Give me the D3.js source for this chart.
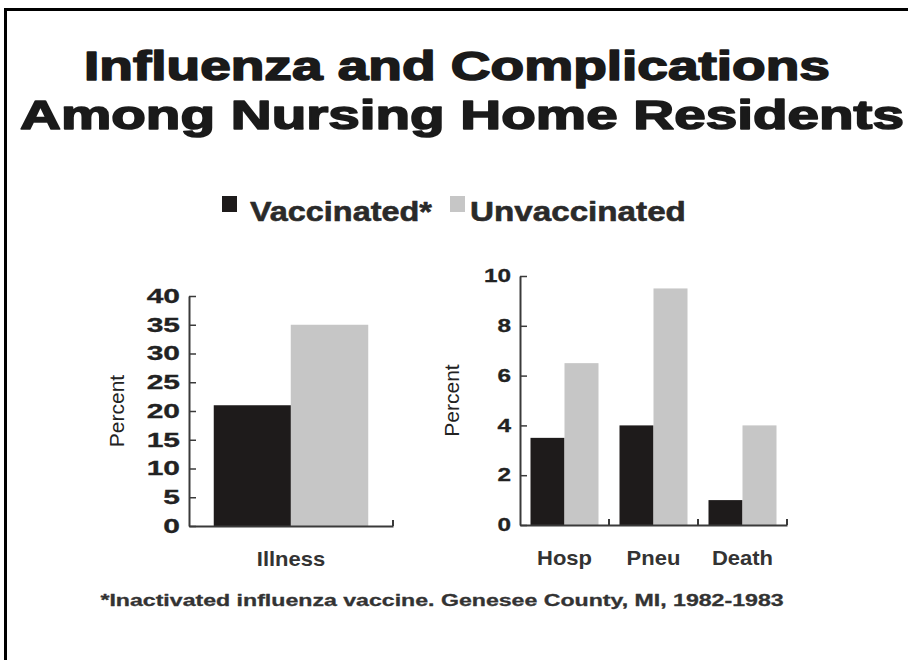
<!DOCTYPE html>
<html>
<head>
<meta charset="utf-8">
<script src="https://cdn.jsdelivr.net/npm/d3@7"></script>
<style>
  html, body { margin: 0; padding: 0; background: #fff; }
  svg { display: block; }
</style>
</head>
<body>
<script>
// --- Data ---
const SERIES = ["Vaccinated*", "Unvaccinated"];
const ILLNESS_CATEGORIES = ["Illness"];
const ILLNESS_VACC = [21];
const ILLNESS_UNVACC = [35];
const COMP_CATEGORIES = ["Hosp", "Pneu", "Death"];
const COMP_VACC = [3.5, 4, 1];
const COMP_UNVACC = [6.5, 9.5, 4];
const ILLNESS_TICKS = [0, 5, 10, 15, 20, 25, 30, 35, 40];
const COMP_TICKS = [0, 2, 4, 6, 8, 10];
const TITLE_LINES = ["Influenza and Complications", "Among Nursing Home Residents"];
const FOOTNOTE = "*Inactivated influenza vaccine. Genesee County, MI, 1982-1983";

const W = 908, H = 660;
const colors = d3.scaleOrdinal().domain(SERIES).range(["#1e1b1b", "#c6c6c6"]);
const ink = "#222";
const axisInk = "#3a3a3a";
const sans = "'Liberation Sans', Arial, sans-serif";

const svg = d3.select("body").append("svg").attr("width", W).attr("height", H);

// frame (top + left only, rest is cropped in the original)
svg.append("path")
  .attr("d", `M5.5,${H} V9.5 H${W}`)
  .attr("fill", "none").attr("stroke", "#000").attr("stroke-width", 3);

// text squeezed/stretched horizontally to a target width (keeps glyph shapes, no extra spacing)
function fitText(t, x, y, width, { anchor = "start", size, weight = "bold", fill = ink, stroke = 0, family = sans } = {}) {
  const el = svg.append("text")
    .attr("text-anchor", anchor)
    .attr("font-family", family)
    .attr("font-weight", weight)
    .attr("font-size", size)
    .attr("fill", fill)
    .text(t);
  if (stroke) el.attr("stroke", fill).attr("stroke-width", stroke).attr("stroke-linejoin", "round");
  const natural = el.node().getComputedTextLength();
  el.attr("transform", `translate(${x},${y}) scale(${width / natural},1)`);
  return el;
}

// --- Title ---
fitText(TITLE_LINES[0], 457, 80, 746, { anchor: "middle", size: 41, fill: "#1a1a1a", stroke: 1.6 });
fitText(TITLE_LINES[1], 462, 129, 884, { anchor: "middle", size: 41, fill: "#1a1a1a", stroke: 1.6 });

// --- Legend ---
const legendItems = [
  { name: SERIES[0], sx: 222, tx: 250, len: 182 },
  { name: SERIES[1], sx: 450, tx: 470, len: 216 }
];
legendItems.forEach(d => {
  svg.append("rect")
    .attr("x", d.sx).attr("y", 196).attr("width", 15).attr("height", 16)
    .attr("fill", colors(d.name));
  fitText(d.name, d.tx, 221, d.len, { size: 28, fill: "#2a2a2a", stroke: 0.6 });
});

// --- Panel builder ---
function panel({ x0, x1, y0, y1, categories, vacc, unvacc, ticks, maxY, padOuter, labelX, barW, tickFont, tickStretch }) {
  const g = svg.append("g");
  const x = d3.scaleBand().domain(categories).range([x0, x1]).paddingInner(0).paddingOuter(0);
  const y = d3.scaleLinear().domain([0, maxY]).range([y1, y0]);
  const sub = d3.scaleBand().domain(SERIES)
    .range([padOuter, x.bandwidth() - padOuter]);

  const rows = categories.map((c, i) => ({ c, values: [vacc[i], unvacc[i]] }));

  // bars
  g.selectAll("g.cat").data(rows).join("g")
    .attr("class", "cat")
    .attr("transform", d => `translate(${x(d.c)},0)`)
    .selectAll("rect")
    .data(d => SERIES.map((s, j) => ({ s, v: d.values[j] })))
    .join("rect")
    .attr("x", d => sub(d.s) + (sub.bandwidth() - barW) / 2)
    .attr("width", barW)
    .attr("y", d => y(d.v))
    .attr("height", d => y(0) - y(d.v))
    .attr("fill", d => colors(d.s));

  // y axis, ticks pointing inward
  const ya = g.append("g")
    .attr("transform", `translate(${x0},0)`)
    .call(d3.axisLeft(y).tickValues(ticks).tickSize(-7).tickSizeOuter(0).tickPadding(9));
  ya.select(".domain").attr("stroke", axisInk).attr("stroke-width", 2);
  ya.selectAll(".tick line").attr("stroke", axisInk).attr("stroke-width", 1.5);
  ya.selectAll(".tick text")
    .attr("x", 0)
    .attr("transform", `translate(-9,0) scale(${tickStretch},1)`)
    .attr("font-family", sans).attr("font-weight", "bold")
    .attr("font-size", tickFont).attr("fill", ink)
    .attr("stroke", ink).attr("stroke-width", 0.3);

  // x axis with small upward ticks at category boundaries
  const xa = g.append("g")
    .attr("transform", `translate(0,${y1})`)
    .call(d3.axisBottom(x).tickSize(0).tickPadding(26));
  xa.select(".domain").attr("stroke", axisInk).attr("stroke-width", 2);
  xa.selectAll(".tick text")
    .attr("font-family", sans).attr("font-weight", "bold")
    .attr("font-size", 20).attr("fill", "#333")
    .attr("transform", "scale(1.1,1)");
  xa.selectAll("line.bound").data(categories).join("line")
    .attr("class", "bound")
    .attr("x1", d => x(d) + x.bandwidth()).attr("x2", d => x(d) + x.bandwidth())
    .attr("y1", 0).attr("y2", -6)
    .attr("stroke", axisInk).attr("stroke-width", 2);

  // y label
  g.append("text")
    .attr("transform", `translate(${labelX},${(y0 + y1) / 2}) rotate(-90)`)
    .attr("text-anchor", "middle")
    .attr("font-family", sans)
    .attr("font-size", 21)
    .attr("fill", ink)
    .text("Percent");
}

panel({
  x0: 189, x1: 393, y0: 296, y1: 526,
  categories: ILLNESS_CATEGORIES, vacc: ILLNESS_VACC, unvacc: ILLNESS_UNVACC,
  ticks: ILLNESS_TICKS, maxY: 40, padOuter: 25, barW: 77.5, labelX: 124,
  tickFont: 20, tickStretch: 1.5
});

panel({
  x0: 520, x1: 787, y0: 276, y1: 525,
  categories: COMP_CATEGORIES, vacc: COMP_VACC, unvacc: COMP_UNVACC,
  ticks: COMP_TICKS, maxY: 10, padOuter: 10.5, barW: 34, labelX: 459,
  tickFont: 18, tickStretch: 1.35
});

// --- Footnote ---
fitText(FOOTNOTE, 442, 606, 684, { anchor: "middle", size: 16, fill: "#333", stroke: 0.3 });
</script>
</body>
</html>
